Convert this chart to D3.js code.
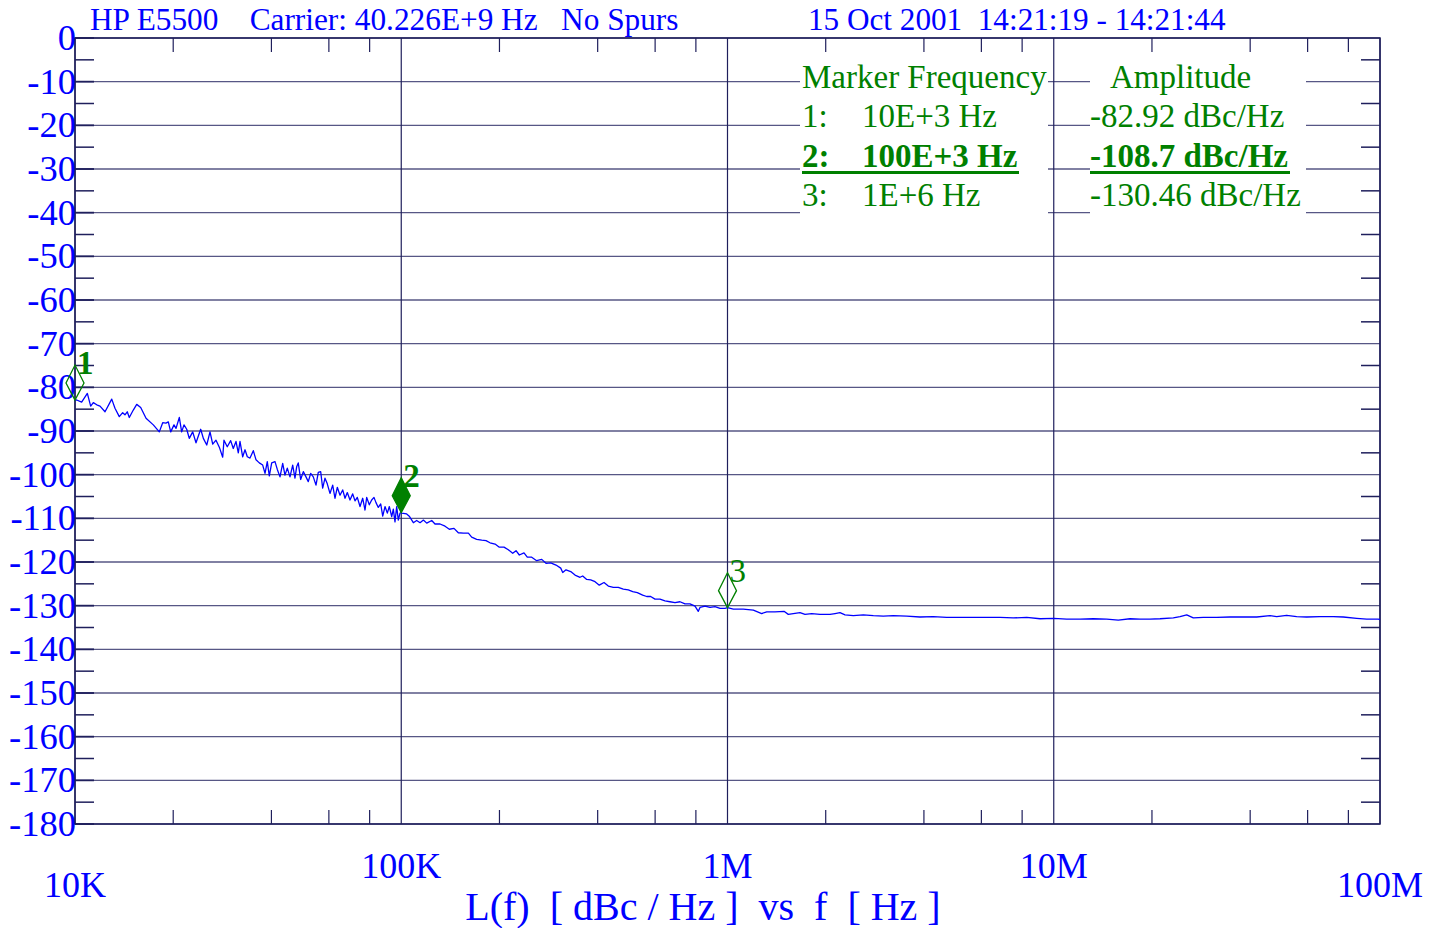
<!DOCTYPE html>
<html>
<head>
<meta charset="utf-8">
<script src="https://cdn.jsdelivr.net/npm/d3@7"></script>
<style>
  body { margin: 0; background: #fff; }
  svg text { font-family: "Liberation Serif", "Times New Roman", serif; white-space: pre; }
</style>
</head>
<body>
<div id="graf"></div>
<script>
const graf = d3.select("#graf")

const anchoTotal = 1440
const altoTotal = 928
const margins = { left: 75, top: 38, right: 60, bottom: 104 }
const ancho = anchoTotal - margins.left - margins.right
const alto = altoTotal - margins.top - margins.bottom

// Data
const freqs = [
  10000, 10120, 10480, 10910, 11170, 11380, 11660, 11930, 12360, 12960, 13260, 13670, 14000, 14230, 14460, 14670,
  15090, 15460, 15900, 16510, 17380, 18130, 18570, 19000, 19320, 19650, 20110, 20400, 20880, 21230, 21580, 22000,
  22400, 22950, 23490, 24280, 24740, 25340, 25930, 26430, 27050, 27690, 28360, 28620, 29290, 30000, 30560, 31150,
  31660, 32040, 32660, 33200, 33740, 34390, 35200, 35880, 36720, 37610, 38230, 38850, 39410, 40080, 41020, 41700,
  42500, 43310, 44020, 44740, 45600, 46480, 47230, 47800, 48340, 49170, 50100, 51050, 51890, 52770, 53750, 54790,
  55680, 56630, 57430, 58380, 59330, 60470, 61640, 62640, 63680, 64900, 66150, 67240, 68330, 69650, 70990, 72150,
  73330, 74750, 76170, 77430, 78360, 79810, 81170, 82500, 83670, 85050, 86500, 87740, 89180, 90640, 91930, 93490,
  94560, 95680, 96830, 97950, 99130, 100000,
  100300, 103900, 105800, 108900, 111500, 114200, 116900, 119700, 124000, 126900, 131500, 136200, 140400, 145100,
  149600, 155000, 160600, 164400, 170300, 176500, 181900, 187100, 193900, 199800, 206500, 212900, 219600, 224800,
  230100, 237800, 243400, 251100, 260100, 269500, 277800, 287200, 298100, 308200, 312600, 319900, 330700, 340900,
  353100, 359900, 370200, 380800, 392600, 404600, 418300, 431200, 446700, 462700, 479300, 496500, 512200, 529100,
  549500, 565300, 581500, 599400, 620900, 643200, 666400, 690300, 715200, 740800, 767500, 795100, 813700, 823600,
  853100, 884100, 915600, 948400, 982400, 1000000,
  1042000, 1118000, 1200000, 1273000, 1319000, 1398000, 1490000, 1536000, 1591000, 1668000, 1728000, 1812000,
  1921000, 2062000, 2136000, 2212000, 2292000, 2430000, 2608000, 2799000, 3003000, 3223000, 3543000, 3890000,
  4273000, 4698000, 5161000, 5667000, 6230000, 6843000, 7516000, 8263000, 9077000, 10000000,
  10960000, 12040000, 13220000, 14530000, 15770000, 17130000, 18380000, 19720000, 21170000, 23250000, 24380000,
  25560000, 26780000, 28730000, 31590000, 34690000, 38110000, 41900000, 46000000, 48240000, 51760000, 55560000,
  59610000, 65490000, 71930000, 77190000, 84840000, 91050000, 98810000, 100000000
]
const ruido = [
  -82.9, -82.9, -83.4, -81.4, -84.3, -83.5, -84.0, -84.3, -85.6, -82.7, -84.8, -86.7, -85.8, -86.3, -85.6, -86.9,
  -85.2, -83.9, -84.6, -87.1, -88.6, -90.2, -88.1, -88.2, -87.9, -90.2, -88.6, -89.4, -86.9, -90.2, -88.6, -89.6,
  -91.7, -90.2, -92.7, -89.6, -91.7, -93.2, -90.2, -93.0, -92.1, -93.7, -96.0, -92.1, -93.6, -92.2, -94.0, -92.4,
  -95.0, -92.4, -95.9, -94.3, -95.9, -96.2, -94.5, -96.6, -97.3, -97.8, -99.7, -97.0, -100.3, -97.3, -97.0, -98.8,
  -100.5, -97.4, -100.1, -98.5, -100.5, -97.8, -100.8, -98.2, -97.3, -101.1, -99.3, -100.5, -101.6, -99.7, -100.5, -102.4,
  -99.5, -99.3, -103.1, -100.8, -102.1, -104.3, -102.4, -105.4, -102.9, -104.7, -103.5, -105.4, -104.1, -105.8, -104.4, -106.0,
  -105.2, -107.3, -105.4, -108.1, -105.2, -106.9, -105.8, -105.2, -106.4, -107.5, -106.7, -109.5, -107.3, -108.8, -107.3, -109.6,
  -107.9, -110.8, -107.3, -110.4, -108.8, -108.7,
  -108.8, -109.0, -109.5, -111.0, -110.5, -111.0, -110.4, -111.1, -110.5, -111.3, -111.3, -111.8, -112.5, -112.3,
  -113.3, -113.4, -113.4, -114.3, -114.8, -115.0, -115.1, -115.6, -115.9, -116.6, -116.6, -117.2, -118.0, -117.4,
  -118.4, -117.9, -118.9, -118.9, -119.7, -119.4, -120.3, -120.2, -120.7, -121.4, -122.4, -121.8, -122.2, -123.0,
  -123.5, -123.2, -124.0, -124.1, -124.5, -125.3, -124.7, -125.5, -125.8, -125.8, -126.2, -126.4, -126.8, -127.0,
  -127.6, -127.9, -127.9, -128.5, -128.5, -128.9, -129.1, -129.3, -129.1, -129.6, -129.6, -130.1, -131.3, -130.4,
  -130.1, -130.4, -130.2, -130.6, -130.6, -130.46,
  -130.8, -130.8, -131.0, -131.8, -131.4, -131.4, -131.3, -132.0, -131.8, -131.6, -132.0, -131.8,
  -132.0, -132.0, -131.8, -131.6, -132.1, -132.3, -132.1, -132.3, -132.4, -132.3, -132.4, -132.6,
  -132.5, -132.7, -132.7, -132.7, -132.7, -132.7, -132.8, -132.7, -133.0, -132.9,
  -133.1, -133.1, -133.0, -133.1, -133.3, -133.0, -133.1, -133.1, -133.0, -132.8, -132.5,
  -132.1, -132.8, -132.7, -132.7, -132.6, -132.6, -132.6, -132.3, -132.5, -132.2, -132.5,
  -132.6, -132.5, -132.5, -132.6, -132.9, -133.1, -133.1, -133.2
]
const yTicks = [0, -10, -20, -30, -40, -50, -60, -70, -80, -90, -100, -110, -120, -130, -140, -150, -160, -170, -180]
const xDecadas = [1e4, 1e5, 1e6, 1e7, 1e8]
const xEtiquetas = ["10K", "100K", "1M", "10M", "100M"]
const marcadorNum = ["1", "2", "3"]
const marcadorFreq = [1e4, 1e5, 1e6]
const marcadorAmp = [-82.92, -108.7, -130.46]
const marcadorFreqTxt = ["10E+3 Hz", "100E+3 Hz", "1E+6 Hz"]
const marcadorAmpTxt = ["-82.92 dBc/Hz", "-108.7 dBc/Hz", "-130.46 dBc/Hz"]
const marcadorActivo = 1

const azul = "#0000ff"
const verde = "#008000"
const rejilla = "#1f1f5c"

const svg = graf.append("svg").attr("width", anchoTotal).attr("height", altoTotal)
const g = svg.append("g").attr("transform", `translate(${margins.left}, ${margins.top})`)

// Escaladores
const x = d3.scaleLog().domain([1e4, 1e8]).range([0, ancho])
const y = d3.scaleLinear().domain([-180, 0]).range([alto, 0])

// rejilla horizontal
g.selectAll(".hgrid").data(yTicks).join("line")
  .attr("x1", 0).attr("x2", ancho)
  .attr("y1", d => y(d)).attr("y2", d => y(d))
  .attr("stroke", rejilla).attr("stroke-width", 1.3).attr("stroke-opacity", 0.75)

// rejilla vertical (decadas)
g.selectAll(".vgrid").data(xDecadas).join("line")
  .attr("x1", d => x(d)).attr("x2", d => x(d))
  .attr("y1", 0).attr("y2", alto)
  .attr("stroke", rejilla).attr("stroke-width", 1.2)

// ticks menores x (2,4,6,8)
const menoresX = []
xDecadas.slice(0, -1).forEach(d => [2, 4, 6, 8].forEach(m => menoresX.push(d * m)))
g.selectAll(".mxt").data(menoresX).join("line")
  .attr("x1", d => x(d)).attr("x2", d => x(d)).attr("y1", 0).attr("y2", 14)
  .attr("stroke", rejilla).attr("stroke-width", 1.2)
g.selectAll(".mxb").data(menoresX).join("line")
  .attr("x1", d => x(d)).attr("x2", d => x(d)).attr("y1", alto).attr("y2", alto - 14)
  .attr("stroke", rejilla).attr("stroke-width", 1.2)

// ticks y: mayores a la izquierda, menores ambos lados
const menoresY = yTicks.slice(0, -1).map(d => d - 5)
g.selectAll(".myl").data(menoresY).join("line")
  .attr("x1", 0).attr("x2", 19).attr("y1", d => y(d)).attr("y2", d => y(d))
  .attr("stroke", rejilla).attr("stroke-width", 1.5)
g.selectAll(".myr").data(menoresY).join("line")
  .attr("x1", ancho - 19).attr("x2", ancho).attr("y1", d => y(d)).attr("y2", d => y(d))
  .attr("stroke", rejilla).attr("stroke-width", 1.5)
g.selectAll(".Myl").data(yTicks).join("line")
  .attr("x1", 0).attr("x2", 19).attr("y1", d => y(d)).attr("y2", d => y(d))
  .attr("stroke", rejilla).attr("stroke-width", 1.8)

// marco
g.append("rect").attr("x", 0).attr("y", 0).attr("width", ancho).attr("height", alto)
  .attr("fill", "none").attr("stroke", rejilla).attr("stroke-width", 1.5)

// etiquetas y
g.selectAll(".ylab").data(yTicks).join("text")
  .attr("x", 1).attr("y", d => y(d) + 12)
  .attr("text-anchor", "end").attr("fill", azul).attr("font-size", 36.5)
  .text(d => d)

// etiquetas x (escalonadas)
g.selectAll(".xlab").data(xDecadas).join("text")
  .attr("x", d => x(d))
  .attr("y", (d, i) => (i === 0 || i === xDecadas.length - 1) ? alto + 73 : alto + 54)
  .attr("text-anchor", "middle").attr("fill", azul).attr("font-size", 36)
  .text((d, i) => xEtiquetas[i])

// titulo eje
svg.append("text").attr("x", 703).attr("y", 920)
  .attr("text-anchor", "middle").attr("fill", azul).attr("font-size", 40)
  .text("L(f)  [ dBc / Hz ]  vs  f  [ Hz ]")

// encabezado
svg.append("text").attr("x", 90).attr("y", 30).attr("fill", azul).attr("font-size", 31.3)
  .text("HP E5500    Carrier: 40.226E+9 Hz   No Spurs")
svg.append("text").attr("x", 808).attr("y", 30).attr("fill", azul).attr("font-size", 31.2)
  .text("15 Oct 2001  14:21:19 - 14:21:44")

// leyenda de marcadores
const leyenda = svg.append("g")
const colA = 802, colB = 862, colC = 1090
leyenda.append("rect").attr("x", colA - 2).attr("y", 58).attr("width", 1048 - colA + 2).attr("height", 157).attr("fill", "#fff")
leyenda.append("rect").attr("x", colC).attr("y", 58).attr("width", 1306 - colC).attr("height", 157).attr("fill", "#fff")
leyenda.append("text").attr("x", colA).attr("y", 88).attr("fill", verde).attr("font-size", 33).text("Marker Frequency")
leyenda.append("text").attr("x", 1110).attr("y", 88).attr("fill", verde).attr("font-size", 33).text("Amplitude")

const filas = leyenda.selectAll(".fila").data(marcadorNum).join("g")
  .attr("transform", (d, i) => `translate(0, ${127 + i * 39.5})`)
filas.append("text").attr("x", colA).attr("y", 0).text(d => d + ":")
filas.append("text").attr("x", colB).attr("y", 0).text((d, i) => marcadorFreqTxt[i])
filas.append("text").attr("x", colC).attr("y", 0).text((d, i) => marcadorAmpTxt[i])
filas.selectAll("text").attr("fill", verde).attr("font-size", 33)
  .attr("font-weight", function () { return d3.select(this.parentNode).datum() === marcadorNum[marcadorActivo] ? "bold" : "normal" })
const filaAct = filas.filter((d, i) => i === marcadorActivo)
filaAct.append("line").attr("x1", colA).attr("x2", 1019).attr("y1", 6).attr("y2", 6)
  .attr("stroke", verde).attr("stroke-width", 3)
filaAct.append("line").attr("x1", colC).attr("x2", 1290).attr("y1", 6).attr("y2", 6)
  .attr("stroke", verde).attr("stroke-width", 3)

// traza
const datos = freqs.map((f, i) => ({ f, v: ruido[i] }))
const linea = d3.line().x(d => x(d.f)).y(d => y(d.v))
g.append("path").datum(datos).attr("d", linea)
  .attr("fill", "none").attr("stroke", azul).attr("stroke-width", 1.3).attr("stroke-linejoin", "round")

// marcadores (rombos con la punta inferior en el dato)
const mg = g.selectAll(".marca").data(marcadorNum).join("g")
  .attr("transform", (d, i) => `translate(${x(marcadorFreq[i])}, ${y(marcadorAmp[i])})`)
mg.append("path")
  .attr("d", "M0,0 L-9,-17 L0,-35 L9,-17 Z")
  .attr("fill", (d, i) => i === marcadorActivo ? verde : "none")
  .attr("stroke", verde).attr("stroke-width", 1.3)
mg.append("text").attr("x", 2).attr("y", -26)
  .attr("fill", verde).attr("font-size", 33)
  .attr("font-weight", (d, i) => i === 2 ? "normal" : "bold")
  .text(d => d)
</script>
</body>
</html>
